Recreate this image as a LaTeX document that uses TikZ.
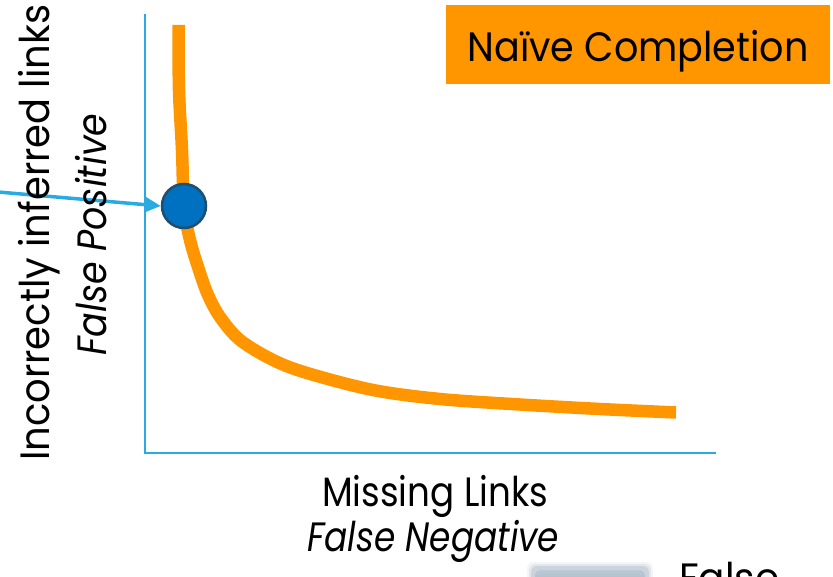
\documentclass[tikz,border=0pt]{standalone}
\usepackage{fontspec}
\usepackage{graphicx}
\setmainfont{Poppins}
\usetikzlibrary{arrows.meta}
\definecolor{axisblue}{HTML}{29ABE2}
\definecolor{curveorange}{HTML}{FF9600}
\definecolor{dotblue}{HTML}{0070C0}
\definecolor{dotedge}{HTML}{1F4E6E}
\definecolor{tabgrey}{HTML}{9FB0C0}
% squeeze a text to a given width, keeping its height
\newcommand\squeezeto[2]{\resizebox{#1}{\height}{#2}}
\tikzset{
  axisline/.style={draw=axisblue, line width=2pt},
  tradeoff/.style={draw=curveorange, line width=12.5pt},
  label/.style={inner sep=0pt, font=\fontsize{41}{45}\selectfont},
  pointer/.style={draw=axisblue, line width=3.5pt, -{Triangle[length=16pt,width=15pt]}},
}
\begin{document}
\begin{tikzpicture}[x=1pt,y=-1pt]
\useasboundingbox (0,0) rectangle (833,577);

% axes
\coordinate (top) at (145,14);
\coordinate (origin) at (145,453);
\coordinate (xend) at (716,453);
\draw[axisline] (top) -- (origin) -- (xend);

% trade-off curve
\draw[tradeoff] plot[smooth, tension=0.55] coordinates {
  (178.5,25) (179,90) (182,150) (184,206) (190,240) (199,270) (208,295)
  (220,317) (240,340) (273,360) (307,373) (373,390) (440,399) (520,404.5)
  (600,409) (676,412.5)};

% operating point and pointer
\node[circle, fill=dotblue, draw=dotedge, line width=2.5pt, minimum size=44pt, inner sep=0pt] (pt) at (184,206) {};
\coordinate (src) at (-2,192);
\draw[pointer] (src) -- (pt.west);

% legend tag
\node[fill=curveorange, minimum width=384pt, minimum height=79pt, inner sep=0pt] (tag) at (638,44.5) {};
\node[label, anchor=base] (tagtext) at (638,62) {\squeezeto{341pt}{Naïve Completion}};

% axis labels
\node[label, rotate=90, anchor=base west] (ylab) at (49,461) {\squeezeto{456pt}{Incorrectly inferred links}};
\node[label, rotate=90, anchor=base west] (ylab2) at (106,356) {\squeezeto{242pt}{\itshape False Positive}};
\node[label, anchor=base west] (xlab) at (322,506) {\squeezeto{226pt}{Missing Links}};
\node[label, anchor=base west] (xlab2) at (307,551) {\squeezeto{252pt}{\itshape False Negative}};

% partly visible items along the bottom edge
\foreach \o/\a in {6/0.12, 4/0.2, 2/0.35} {
  \fill[tabgrey, opacity=\a, rounded corners=6pt] (533-\o,568-\o) rectangle (647+\o,600);
}
\shade[top color=tabgrey!70, bottom color=tabgrey, rounded corners=5pt] (535,570) rectangle (645,600);
\node[label, anchor=base west] (cut) at (679,592) {\squeezeto{100pt}{False}};
\end{tikzpicture}
\end{document}
